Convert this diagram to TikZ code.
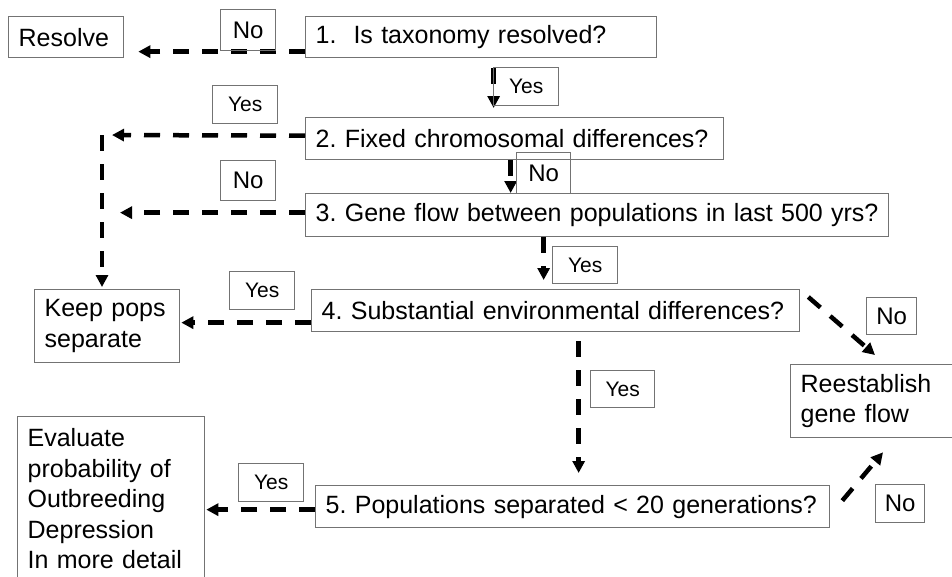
\documentclass[tikz,border=0pt]{standalone}
\usepackage{fontspec}
\setmainfont{Liberation Sans}
\usetikzlibrary{arrows.meta}
\frenchspacing
\begin{document}
\begin{tikzpicture}[x=1pt,y=-1pt,
  box/.style={draw=black!55, line width=1.3pt, anchor=north west, inner xsep=10pt, inner ysep=0pt, align=left, font=\fontsize{25}{30.5}\selectfont},
  lab/.style={draw=black!55, line width=1.3pt, anchor=north west, inner sep=0pt, align=center},
  yeslab/.style={lab, font=\fontsize{21}{25}\selectfont},
  nolab/.style={lab, font=\fontsize{24}{28}\selectfont},
  arr/.style={line width=4.5pt, dash pattern=on 16pt off 13pt, -{Triangle[length=12pt,width=12pt]}}
]
\useasboundingbox (0,0) rectangle (952,576);
% boxes
\node[box, text width=95pt, minimum height=41pt] (resolve) at (8,16) {Resolve};
\node[box, text width=331pt, minimum height=41pt] (q1) at (305,16) {\mbox{1.\hspace{17pt}Is taxonomy resolved?}};
\node[box, text width=398pt, minimum height=42pt] (q2) at (305,117) {\mbox{2. Fixed chromosomal differences?}};
\node[box, text width=563pt, minimum height=43pt] (q3) at (305,193) {\mbox{3. Gene flow between populations in last 500 yrs?}};
\node[box, text width=468pt, minimum height=42pt] (q4) at (311,289) {\mbox{4. Substantial environmental differences?}};
\node[box, text width=494pt, minimum height=42pt] (q5) at (315,485) {\mbox{5. Populations separated < 20 generations?}};
\node[box, text width=125pt, minimum height=73pt] (keep) at (34,289) {Keep pops\\separate};
\node[box, text width=150pt, minimum height=73pt] (reest) at (790,364) {Reestablish\\gene flow};
\node[box, text width=167pt, minimum height=164pt] (eval) at (17,416) {Evaluate\\probability of\\Outbreeding\\Depression\\In more detail};
% connectors
\coordinate (s1) at ([yshift=-14.5pt]q1.west);
\draw[arr, shorten >=14pt] (s1) -- (s1 -| resolve.east);
\coordinate (s2) at ([xshift=12.5pt]q1.south);
\draw[arr, shorten <=10pt, shorten >=9pt] (s2) -- (s2 |- q2.north);
\coordinate (s3) at ([yshift=3pt]q2.west);
\coordinate (corner) at (102,135);
\draw[arr, shorten >=10pt] (s3) -- (corner);
\draw[arr, shorten >=2pt] (corner) -- (corner |- keep.north);
\coordinate (s4) at ([xshift=-4pt]q2.south);
\draw[arr] (s4) -- (s4 |- q3.north);
\coordinate (s5) at ([yshift=2.5pt]q3.west);
\draw[arr, shorten >=18pt] (s5) -- (s5 -| corner);
\coordinate (s6) at ([xshift=-53.5pt]q3.south);
\draw[arr, shorten >=9pt] (s6) -- (s6 |- q4.north);
\coordinate (s7) at ([yshift=-12pt]q4.west);
\draw[arr, shorten >=1pt] (s7) -- (s7 -| keep.east);
\draw[arr] ([xshift=8pt,yshift=-8pt]q4.north east) -- ([xshift=85pt,yshift=9pt]reest.north west);
\coordinate (s9) at ([xshift=23pt]q4.south);
\draw[arr, shorten <=9pt, shorten >=12pt] (s9) -- (s9 |- q5.north);
\coordinate (s10) at ([yshift=-3pt]q5.west);
\draw[arr, shorten >=1pt] (s10) -- (s10 -| eval.east);
\draw[arr] ([xshift=12pt,yshift=6pt]q5.east) -- ([xshift=93pt,yshift=-14pt]reest.south west);
% labels
\node[nolab, minimum width=55pt, minimum height=41pt] (noA) at (220,9) {No};
\node[yeslab, minimum width=65pt, minimum height=38pt] (yesA) at (493,67) {Yes};
\node[yeslab, minimum width=65pt, minimum height=38pt] (yesB) at (212,85) {Yes};
\node[nolab, minimum width=55pt, minimum height=40pt] (noB) at (220,160) {No};
\node[nolab, minimum width=54pt, minimum height=41pt] (noC) at (516,152) {No};
\node[yeslab, minimum width=65pt, minimum height=37pt] (yesC) at (552,246) {Yes};
\node[yeslab, minimum width=65pt, minimum height=38pt] (yesD) at (229,271) {Yes};
\node[nolab, minimum width=50pt, minimum height=37pt] (noD) at (866,297) {No};
\node[yeslab, minimum width=64pt, minimum height=37pt] (yesE) at (590,370) {Yes};
\node[yeslab, minimum width=65pt, minimum height=38pt] (yesF) at (238,463) {Yes};
\node[nolab, minimum width=49pt, minimum height=38pt] (noE) at (875,484) {No};
\end{tikzpicture}
\end{document}
